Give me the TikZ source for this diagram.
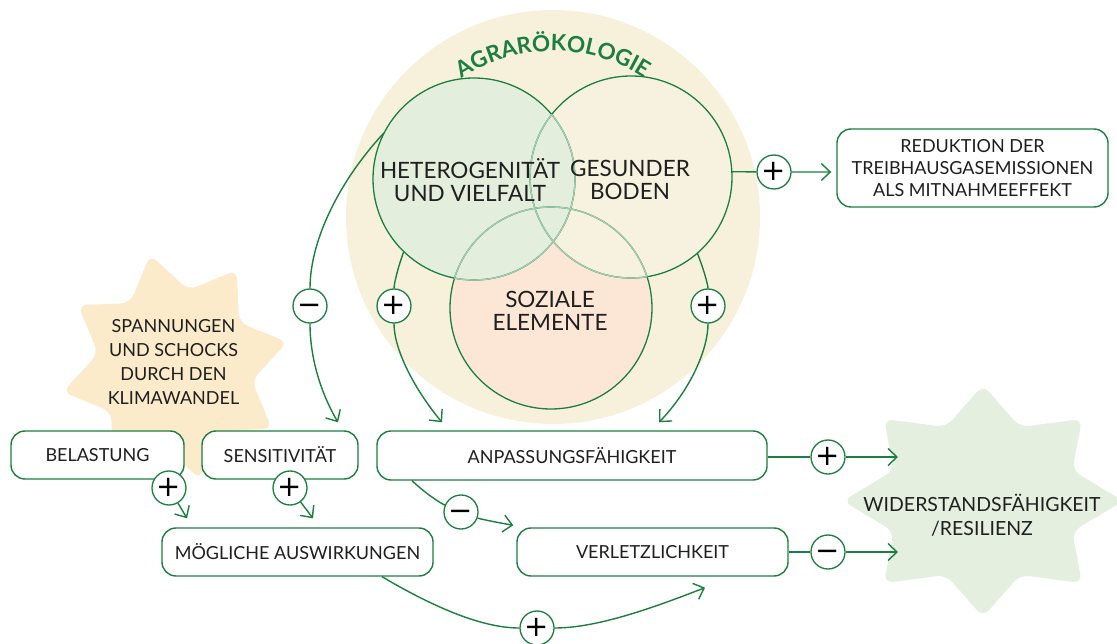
\documentclass[tikz,border=0pt]{standalone}
\usepackage{fontspec}
\setmainfont{Lato}
\newfontfamily\signfont{DejaVu Sans}
\usetikzlibrary{arrows.meta,decorations.text}
\definecolor{agreen}{HTML}{1B7F3F}
\definecolor{lgreen}{HTML}{A6CCB1}
\definecolor{cream}{HTML}{F7F1DC}
\definecolor{hetfill}{HTML}{E4EEDC}
\definecolor{gesfill}{HTML}{F7F2E0}
\definecolor{sozfill}{HTML}{FCE7D7}
\definecolor{starO}{HTML}{FCEBCB}
\definecolor{starG}{HTML}{E4EFDF}
\definecolor{txt}{HTML}{1F1F1F}
\begin{document}
\begin{tikzpicture}[x=1pt,y=-1pt,
  box/.style={draw=agreen, line width=1.4pt, rounded corners=14pt, fill=white, text=txt,
    font=\fontsize{18}{22}\selectfont, align=center, inner sep=0pt},
  venn/.style={circle, minimum size=202pt, inner sep=0pt},
  venntext/.style={text=txt, font=\fontsize{22.5}{23}\selectfont, align=center, inner sep=0pt},
  sign/.style={circle, draw=agreen, line width=1.3pt, fill=white, minimum size=34pt,
    inner sep=0pt, text=black, font=\signfont\fontsize{29}{29}\selectfont,
    text height=17.6pt, text depth=0pt},
  conn/.style={draw=agreen, line width=1.4pt},
  arr/.style={conn, -{Straight Barb[length=9pt,width=17pt]}},
  vstroke/.style={draw=agreen, line width=1.3pt},
  lstroke/.style={draw=lgreen, line width=1.3pt}
]
\fill[white] (0,0) rectangle (1117,644);
\useasboundingbox (0,0) rectangle (1117,644);

% stars
\begin{scope}[shift={(175,367)}]
\fill[starO, rounded corners=9pt] (-102.5:115) -- (-80:78) -- (-57.5:115) -- (-35:78)
  -- (-12.5:115) -- (10:78) -- (32.5:115) -- (55:78) -- (77.5:115) -- (100:78)
  -- (122.5:115) -- (145:78) -- (167.5:115) -- (190:78) -- (212.5:115) -- (235:78) -- cycle;
\end{scope}
\begin{scope}[shift={(983,501)}, xscale=1.207]
\fill[starG, rounded corners=9pt] (-90:116) -- (-67.5:80) -- (-45:116) -- (-22.5:80)
  -- (0:116) -- (22.5:80) -- (45:116) -- (67.5:80) -- (90:116) -- (112.5:80)
  -- (135:116) -- (157.5:80) -- (180:116) -- (202.5:80) -- (225:116) -- (247.5:80) -- cycle;
\end{scope}

% big circle
\fill[cream] (553,217) circle[radius=207pt];
\path[decorate, decoration={text along path, text align=center, text color=agreen,
   text={|\fontsize{22.5}{22.5}\selectfont\bfseries|AGRARÖKOLOGIE}}]
   (553,217) ++(-150:166) arc[start angle=-150, end angle=-30, radius=166];

% venn fills
\fill[sozfill] (551,308) circle[radius=101pt];
\fill[gesfill] (631,177) circle[radius=101pt];
\fill[hetfill] (474,179) circle[radius=101pt];
% strokes
\path[vstroke] (551,308) circle[radius=101pt];
\path[vstroke] (631,177) circle[radius=101pt];
\path[vstroke] (474,179) circle[radius=101pt];
\begin{scope}
\clip (631,177) circle[radius=101pt] (551,308) circle[radius=101pt];
\path[lstroke] (474,179) circle[radius=101pt];
\end{scope}
\begin{scope}
\clip (474,179) circle[radius=101pt] (551,308) circle[radius=101pt];
\path[lstroke] (631,177) circle[radius=101pt];
\end{scope}
\begin{scope}
\clip (474,179) circle[radius=101pt] (631,177) circle[radius=101pt];
\path[lstroke] (551,308) circle[radius=101pt];
\end{scope}

\node[venn, label={[venntext, xshift=-4pt, yshift=-1pt]center:{HETEROGENITÄT\\UND VIELFALT}}] (het) at (474,179) {};
\node[venn, label={[venntext, xshift=-1pt, yshift=-3pt]center:{GESUNDER\\BODEN}}] (ges) at (631,177) {};
\node[venn, label={[venntext, xshift=-1pt, yshift=-3pt]center:{SOZIALE\\ELEMENTE}}] (soz) at (551,308) {};

% other texts
\node[text=txt, align=center, font=\fontsize{18}{24}\selectfont] (span) at (173.5,362)
  {SPANNUNGEN\\UND SCHOCKS\\DURCH DEN\\KLIMAWANDEL};
\node[text=txt, align=center, font=\fontsize{19.5}{24}\selectfont] (wid) at (982,515)
  {WIDERSTANDSFÄHIGKEIT\\/RESILIENZ};

% boxes
\node[box, minimum width=173pt, minimum height=48pt] (bel) at (97.5,455) {BELASTUNG};
\node[box, minimum width=156pt, minimum height=48pt] (sens) at (280,455) {SENSITIVITÄT};
\node[box, minimum width=271pt, minimum height=48pt] (moeg) at (297.5,552) {MÖGLICHE AUSWIRKUNGEN};
\node[box, minimum width=390pt, minimum height=49pt] (anp) at (572,455.5) {ANPASSUNGSFÄHIGKEIT};
\node[box, minimum width=271pt, minimum height=48pt] (ver) at (652.5,552) {VERLETZLICHKEIT};
\node[box, minimum width=271pt, minimum height=78pt] (red) at (972.5,168)
  {REDUKTION DER\\TREIBHAUSGASEMISSIONEN\\ALS MITNAHMEEFFEKT};

% sign circles
\node[sign] (pR) at (774,172) {+};
\node[sign] (pHL) at (310,306) {−};
\node[sign] (pHB) at (394,306) {+};
\node[sign] (pGB) at (708,306) {+};
\node[sign] (pB) at (169,488) {+};
\node[sign] (pS) at (290,488) {+};
\node[sign] (pA) at (461,512) {−};
\node[sign] (pM) at (537,628) {+};
\node[sign] (pW1) at (828,457) {+};
\node[sign] (pW2) at (828,552) {−};

\coordinate (w1) at (898,457);
\coordinate (w2) at (898,552);

% connectors
\draw[arr, shorten >=5pt] (ges.3) -- (pR) -- (pR -| red.west);
\draw[arr] (anp.east |- pW1) -- (pW1) -- (w1);
\draw[arr] (ver.east |- pW2) -- (pW2) -- (w2);
\draw[arr] (het.153) .. controls (340,180) and (310,240) .. (pHL)
  .. controls (310,360) and (322,395) .. ([xshift=58pt,yshift=8pt]sens.north);
\draw[arr] (het.226) .. controls (397,270) and (394,285) .. (pHB)
  .. controls (394,350) and (415,390) .. ([xshift=-130pt,yshift=8pt]anp.north);
\draw[arr] (ges.311) .. controls (704,270) and (708,285) .. (pGB)
  .. controls (708,350) and (690,390) .. ([xshift=87pt,yshift=8pt]anp.north);
\draw[arr] (pB) -- ([xshift=-110.5pt,yshift=9pt]moeg.north);
\draw[arr] (pS) -- ([xshift=15.5pt,yshift=9pt]moeg.north);
\draw[conn] ([xshift=-160pt]anp.south) .. controls (425,493) and (440,503) .. (pA);
\draw[arr] (pA) .. controls (480,519) and (500,523) .. ([xshift=-3pt,yshift=2pt]ver.north west);
\draw[arr] ([xshift=84.5pt]moeg.south) .. controls (430,605) and (480,628) .. (pM)
  .. controls (600,628) and (660,605) .. ([xshift=52.5pt,yshift=-11pt]ver.south);
\end{tikzpicture}
\end{document}
